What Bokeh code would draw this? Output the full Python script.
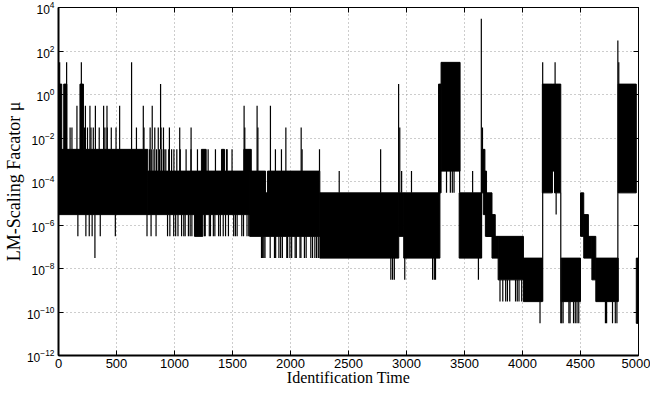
from bokeh.plotting import figure
from bokeh.models import (FixedTicker, LinearAxis, LogAxis, LogTickFormatter,
                          CustomJSTickFormatter)
from bokeh.embed import file_html
from bokeh.resources import INLINE

# ---- data ----
# dense oscillation blocks: x-start, x-end, upper level, lower level
band_x0 = [0, 3, 45, 185, 770, 1232, 1405, 1598, 1172, 1648, 1785, 1802,
           2253, 2933, 2976, 3276, 3298, 3454,
           3648, 3662, 3680, 3690, 3737, 3790, 4008,
           4171, 4258, 4276, 4333, 4500, 4528, 4568, 4598, 4632, 4825, 4981]
band_x1 = [770, 28, 72, 215, 1648, 1273, 1431, 1662, 1244, 1785, 1802, 2253,
           2933, 2976, 3288, 3298, 3462, 3648,
           3676, 3690, 3737, 3765, 3790, 4008, 4171,
           4258, 4276, 4330, 4500, 4528, 4568, 4598, 4632, 4825, 4981, 5000]
band_hi = [3e-3, 3e0, 3e0, 3e0, 3e-4, 3e-3, 3e-3, 3e-3, 3e-6, 3e-4, 3e-5, 3e-4,
           3e-5, 3e-5, 3e-5, 3e0, 3e1, 3e-5,
           3e-3, 3e-4, 3e-5, 3e-6, 3e-7, 3e-7, 3e-8,
           3e0, 3e0, 3e0, 3e-8, 3e-5, 3e-6, 3e-7, 3e-7, 3e-8, 3e0, 3e-8]
band_lo = [3e-6, 3e-5, 3e-4, 3e-3, 3e-6, 3e-4, 3e-4, 3e-4, 3e-7, 3e-7, 3e-7, 3e-7,
           3e-8, 3e-7, 3e-8, 3e-5, 3e-4, 3e-8,
           3e-5, 3e-6, 3e-7, 3e-7, 3e-8, 3e-9, 3e-10,
           3e-5, 3e-4, 3e-5, 3e-10, 3e-7, 3e-8, 3e-8, 3e-9, 3e-10, 3e-5, 3e-11]

# isolated excursions: x, upper level, lower level
spike_x = [10, 70, 197, 630, 880,
           159, 232, 271, 318, 389, 418, 527, 731, 808,
           100, 116, 225, 250, 280, 300, 351, 400, 420, 455, 496, 672, 737,
           790, 830, 860, 884, 905, 956, 1045, 1143, 1606, 1719, 1960, 2092,
           1600, 1712, 1827,
           785, 800, 815, 845, 870, 890, 910, 925, 950, 975, 995, 1020, 1050,
           1100, 1142, 1198, 1290, 1353, 1448, 1454, 1496, 1870, 1922, 2100, 2250,
           2420, 2777, 2958, 3043, 3570, 2932, 2942, 3655,
           3645, 4174, 4281, 4830, 4822, 4290, 4330,
           167, 236, 265, 290, 360, 490, 763, 798, 841, 940, 960, 993, 1010,
           1030, 1061, 1080, 1092, 1120, 1135, 1150, 1258, 1265, 1300, 1310,
           1335, 1348, 1380, 1395, 1420, 1440, 1465, 1510, 1525, 1540, 1580,
           1595, 1625, 1640,
           314,
           1750, 1760, 1770, 1780, 1825, 1862, 1872, 1900, 1915, 1930, 1968,
           1975, 1995, 2010, 2040, 2050, 2082, 2090, 2120, 2135, 2175, 2190,
           2210, 2225, 2240,
           2865, 2880, 2895, 2985, 3225, 3240, 3250, 3620,
           3806, 3830, 3855, 3870, 3890, 3940, 3955, 3970, 3993,
           4151, 4338, 4350, 4400, 4410, 4440, 4455, 4470, 4485, 4715, 4725,
           4776, 4800, 4814,
           3345, 3378, 3395, 3410, 3458]
spike_hi = [3e1, 3e1, 3e1, 3e1, 3e0,
            3e-1, 3e-1, 3e-1, 3e-1, 3e-1, 3e-1, 3e-1, 3e-1, 3e-1,
            3e-2, 3e-2, 3e-2, 3e-2, 3e-2, 3e-2, 3e-2, 3e-2, 3e-2, 3e-2, 3e-2, 3e-2, 3e-2,
            3e-2, 3e-2, 3e-2, 3e-2, 3e-2, 3e-2, 3e-2, 3e-2, 3e-2, 3e-2, 3e-2, 3e-2,
            3e-1, 3e-1, 3e-1,
            3e-3, 3e-3, 3e-3, 3e-3, 3e-3, 3e-3, 3e-3, 3e-3, 3e-3, 3e-3, 3e-3, 3e-3, 3e-3,
            3e-3, 3e-3, 3e-3, 3e-3, 3e-3, 3e-3, 3e-3, 3e-3, 3e-3, 3e-3, 3e-3, 3e-3,
            3e-4, 3e-3, 3e-4, 3e-4, 3e-4, 3e0, 3e-2, 3e-2,
            3e3, 3e1, 3e1, 3e1, 3e2, 3e-5, 3e-5,
            3e-6, 3e-6, 3e-6, 3e-6, 3e-6, 3e-6, 3e-6, 3e-6, 3e-6, 3e-6, 3e-6, 3e-6, 3e-6,
            3e-6, 3e-6, 3e-6, 3e-6, 3e-6, 3e-6, 3e-6, 3e-6, 3e-6, 3e-6, 3e-6,
            3e-6, 3e-6, 3e-6, 3e-6, 3e-6, 3e-6, 3e-6, 3e-6, 3e-6, 3e-6, 3e-6,
            3e-6, 3e-6, 3e-6,
            3e-6,
            3e-7, 3e-7, 3e-7, 3e-7, 3e-7, 3e-7, 3e-7, 3e-7, 3e-7, 3e-7, 3e-7,
            3e-7, 3e-7, 3e-7, 3e-7, 3e-7, 3e-7, 3e-7, 3e-7, 3e-7, 3e-7, 3e-7,
            3e-7, 3e-7, 3e-7,
            3e-8, 3e-8, 3e-8, 3e-8, 3e-8, 3e-8, 3e-8, 3e-8,
            3e-9, 3e-9, 3e-9, 3e-9, 3e-9, 3e-9, 3e-9, 3e-9, 3e-9,
            3e-10, 3e-10, 3e-10, 3e-10, 3e-10, 3e-10, 3e-10, 3e-10, 3e-10, 3e-10, 3e-10,
            3e-10, 3e-10, 3e-10,
            3e-4, 3e-4, 3e-4, 3e-4, 3e-4]
spike_lo = [3e-3, 3e-3, 3e-3, 3e-3, 3e-3,
            3e-3, 3e-3, 3e-3, 3e-3, 3e-3, 3e-3, 3e-3, 3e-3, 3e-3,
            3e-3, 3e-3, 3e-3, 3e-3, 3e-3, 3e-3, 3e-3, 3e-3, 3e-3, 3e-3, 3e-3, 3e-3, 3e-3,
            3e-4, 3e-4, 3e-4, 3e-4, 3e-4, 3e-4, 3e-4, 3e-4, 3e-4, 3e-4, 3e-4, 3e-4,
            3e-4, 3e-4, 3e-4,
            3e-4, 3e-4, 3e-4, 3e-4, 3e-4, 3e-4, 3e-4, 3e-4, 3e-4, 3e-4, 3e-4, 3e-4, 3e-4,
            3e-4, 3e-4, 3e-4, 3e-4, 3e-4, 3e-4, 3e-4, 3e-4, 3e-4, 3e-4, 3e-4, 3e-4,
            3e-5, 3e-5, 3e-5, 3e-5, 3e-5, 3e-5, 3e-5, 3e-3,
            3e-8, 3e-10, 3e-5, 3e-5, 3e-10, 3e-6, 3e-11,
            3e-7, 3e-7, 3e-7, 3e-7, 3e-7, 3e-7, 3e-7, 3e-7, 3e-7, 3e-7, 3e-7, 3e-7, 3e-7,
            3e-7, 3e-7, 3e-7, 3e-7, 3e-7, 3e-7, 3e-7, 3e-7, 3e-7, 3e-7, 3e-7,
            3e-7, 3e-7, 3e-7, 3e-7, 3e-7, 3e-7, 3e-7, 3e-7, 3e-7, 3e-7, 3e-7,
            3e-7, 3e-7, 3e-7,
            3e-8,
            3e-8, 3e-8, 3e-8, 3e-8, 3e-8, 3e-8, 3e-8, 3e-8, 3e-8, 3e-8, 3e-8,
            3e-8, 3e-8, 3e-8, 3e-8, 3e-8, 3e-8, 3e-8, 3e-8, 3e-8, 3e-8, 3e-8,
            3e-8, 3e-8, 3e-8,
            3e-9, 3e-9, 3e-9, 3e-9, 3e-9, 3e-9, 3e-9, 3e-9,
            3e-10, 3e-10, 3e-10, 3e-10, 3e-10, 3e-10, 3e-10, 3e-10, 3e-10,
            3e-11, 3e-11, 3e-11, 3e-11, 3e-11, 3e-11, 3e-11, 3e-11, 3e-11, 3e-11, 3e-11,
            3e-11, 3e-11, 3e-11,
            3e-5, 3e-5, 3e-5, 3e-5, 3e-5]

x_ticks = [0, 500, 1000, 1500, 2000, 2500, 3000, 3500, 4000, 4500, 5000]
y_ticks = [1e-12, 1e-10, 1e-8, 1e-6, 1e-4, 1e-2, 1e0, 1e2, 1e4]

x_label = "Identification Time"
y_label = "LM-Scaling Facator \u03bc"

# ---- figure ----
p = figure(width=650, height=388, x_range=(0, 5000), y_range=(1e-12, 1e4),
           y_axis_type="log", output_backend="svg", toolbar_location=None,
           min_border_left=51, min_border_right=12, min_border_top=7,
           min_border_bottom=28)
p.background_fill_color = "white"
p.border_fill_color = "white"
p.outline_line_color = "black"
p.outline_line_width = 1

p.quad(left=band_x0, right=band_x1, top=band_hi, bottom=band_lo,
       fill_color="black", line_color="black", line_width=1)
p.segment(x0=spike_x, y0=spike_lo, x1=spike_x, y1=spike_hi,
          line_color="black", line_width=1.2)

tick_font = "Liberation Sans"
label_font = "Liberation Serif"

xa = p.xaxis[0]
xa.ticker = FixedTicker(ticks=x_ticks)
xa.axis_label = x_label
xa.axis_label_text_font = label_font
xa.axis_label_text_font_style = "normal"
xa.axis_label_text_font_size = "16px"
xa.axis_label_standoff = -2
xa.major_label_text_font = tick_font
xa.major_label_text_font_size = "13px"
xa.major_label_standoff = 3

ya = p.yaxis[0]
ya.ticker = FixedTicker(ticks=y_ticks)
ya.formatter = LogTickFormatter()
ya.axis_label = y_label
ya.axis_label_text_font = label_font
ya.axis_label_text_font_style = "normal"
ya.axis_label_text_font_size = "18px"
ya.axis_label_standoff = 0
ya.major_label_text_font = tick_font
ya.major_label_text_font_size = "12px"
ya.major_label_standoff = 4

for ax in (xa, ya):
    ax.major_tick_in = 5
    ax.major_tick_out = 0
    ax.minor_tick_line_color = None
    ax.axis_line_width = 2
    ax.axis_line_color = "black"
    ax.major_tick_line_color = "black"
    ax.major_label_text_color = "black"
    ax.axis_label_text_color = "black"

blank = CustomJSTickFormatter(code="return '';")
top_ax = LinearAxis(ticker=FixedTicker(ticks=x_ticks), formatter=blank,
                    major_tick_in=5, major_tick_out=0, minor_tick_line_color=None,
                    axis_line_color="black", major_label_standoff=0)
right_ax = LogAxis(ticker=FixedTicker(ticks=y_ticks), formatter=blank,
                   major_tick_in=5, major_tick_out=0, minor_tick_line_color=None,
                   axis_line_color="black", major_label_standoff=0)
p.add_layout(top_ax, "above")
p.add_layout(right_ax, "right")

p.xgrid.ticker = FixedTicker(ticks=x_ticks)
p.ygrid.ticker = FixedTicker(ticks=y_ticks)
for g in (p.xgrid[0], p.ygrid[0]):
    g.grid_line_color = "#9a9a9a"
    g.grid_line_dash = "1 3"
    g.grid_line_width = 1

open("out.html", "w").write(file_html(p, INLINE))
